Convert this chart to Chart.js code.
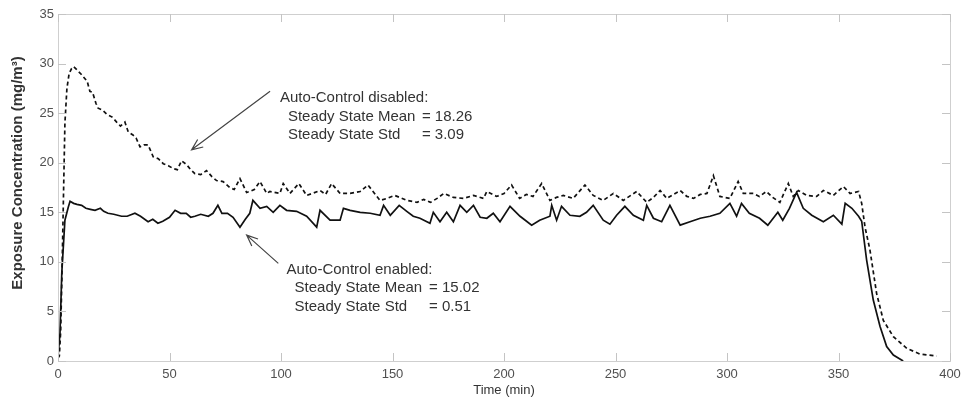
<!DOCTYPE html>
<html>
<head>
<meta charset="utf-8">
<script src="https://cdn.jsdelivr.net/npm/chart.js@4.4.1/dist/chart.umd.min.js"></script>
<style>
  html, body { margin: 0; padding: 0; background: #fff; }
  #wrap { width: 968px; height: 405px; }
</style>
</head>
<body>
<div id="wrap"><canvas id="exposureChart" width="968" height="405"></canvas></div>
<script>
// Auto-Control disabled (dashed line)
const disabledTime = [0, 0.6, 1.2, 1.8, 2.4, 3.1, 4, 5, 6.1, 7, 8.4, 9.2, 10.5, 12, 13.1, 14.3, 15.5, 17, 18, 20,
  21.8, 24.3, 26.3, 28, 30, 31.5, 33.6, 35, 36.8, 38.5, 40.4, 42.7, 45, 47.2, 49.5, 51.7, 53.5, 55.4, 57.7, 59.5,
  61.4, 64, 66.6, 69, 71.1, 74, 77, 79, 81.6, 84.6, 86, 88, 90.6, 93.6, 95, 99.5, 101, 104, 108, 111.5,
  114, 117.5, 120, 122.7, 126.5, 131, 135.5, 139, 144.4, 147.5, 151, 156.4, 161, 164, 167, 170, 173, 177.3, 181.8, 186.3,
  190.8, 192.3, 196.7, 200, 203.4, 207, 210, 213, 216.9, 220.6, 223.5, 226.6, 231, 236.3, 240, 244.5, 249, 253.5, 259.5, 264,
  267, 270, 273, 276, 279, 282, 285, 288, 291, 293.9, 296.8, 301.3, 305, 307.3, 311.8, 314.5, 317.7, 320.5, 323.7, 327.5,
  329.7, 332, 335.7, 340.2, 343.2, 347.7, 352.2, 355.2, 359, 360.4, 361.9, 364.1, 367.1, 370.1, 374.6, 380.6, 386.5, 394];
const disabledValue = [0.3, 0.5, 3, 9, 16, 24, 27.5, 29, 29.5, 29.7, 29.4, 29.2, 28.9, 28.5, 28.2, 27.2, 27.1, 26, 25.5, 25.3,
  24.9, 24.6, 24.1, 23.7, 24.1, 23.1, 22.8, 22.5, 21.6, 21.8, 21.8, 20.6, 20.4, 19.9, 19.7, 19.4, 19.3, 20.2, 19.8, 19.3,
  18.9, 18.8, 19.2, 18.6, 18.2, 18.1, 17.5, 17.3, 18.4, 17.0, 17.1, 17.3, 18.1, 16.9, 17.1, 16.9, 17.9, 16.9, 17.9, 16.7,
  16.9, 17.2, 16.8, 17.9, 16.9, 16.9, 17.1, 17.75, 16.2, 16.4, 16.7, 16.2, 16.0, 16.3, 16.0, 16.4, 16.9, 16.5, 16.4, 16.7,
  16.4, 17.1, 16.6, 16.9, 17.75, 16.4, 16.8, 16.6, 17.9, 16.2, 16.5, 16.7, 16.4, 17.75, 16.7, 16.2, 16.9, 16.2, 17.1, 16.0,
  16.5, 17.2, 16.4, 16.8, 17.2, 16.6, 16.4, 16.8, 16.9, 18.7, 16.6, 16.4, 18.1, 16.9, 16.9, 16.6, 17.1, 16.5, 16.0, 17.9,
  16.6, 17.2, 16.7, 16.6, 17.2, 16.7, 17.6, 16.9, 17.1, 15.9, 13.5, 11.2, 6.8, 4.1, 2.45, 1.28, 0.7, 0.5];

// Auto-Control enabled (solid line)
const enabledTime = [0, 0.9, 1.7, 3.1, 4.6, 5.4, 7, 8.5, 10.6, 12.5, 14.5, 16.6, 19, 20.5, 22.4, 25, 28.5, 31, 34.5, 37,
  40.4, 42.5, 44.8, 47, 50, 52.5, 55, 57.5, 59.5, 61.4, 64, 67.4, 69.5, 71.7, 73.5, 76, 78.5, 81.6, 84, 86,
  87.4, 90.6, 93.6, 96.5, 99.5, 102.5, 107, 111.5, 116, 117.5, 122, 126.5, 128, 131, 135.5, 140, 144.4, 146, 149, 153,
  156.4, 159.3, 162.3, 166.8, 168.3, 171.3, 174.3, 177.3, 180.3, 183.3, 186.3, 189.3, 192.3, 195.2, 198.2, 202.7, 207.2, 212.4, 216, 220.6,
  221.4, 223.6, 225.8, 229.6, 234, 237, 240, 244.5, 247.5, 250.5, 254.2, 258, 262.5, 264, 267, 270.7, 274.4, 279, 283.4, 288,
  292.4, 296.8, 301.3, 304.3, 306.5, 310, 314.6, 318.3, 322.8, 325, 328, 331.2, 334.2, 338, 343.2, 347.7, 351.5, 353, 356, 359,
  360.4, 362.6, 365.6, 368.6, 371.6, 374.6, 379];
const enabledValue = [0.4, 2.8, 8.9, 14.2, 15.5, 16.1, 15.9, 15.8, 15.7, 15.4, 15.3, 15.2, 15.4, 15.1, 14.9, 14.8, 14.6, 14.6, 14.9, 14.6,
  14.05, 14.3, 13.9, 14.1, 14.5, 15.2, 14.9, 14.9, 14.5, 14.6, 14.8, 14.6, 14.9, 15.7, 14.9, 14.9, 14.5, 13.5, 14.3, 14.9,
  16.2, 15.4, 15.6, 15.0, 15.7, 15.2, 15.1, 14.6, 13.5, 15.2, 14.2, 14.2, 15.4, 15.2, 15.0, 14.9, 14.7, 15.7, 14.7, 15.7,
  15.1, 14.6, 14.4, 13.9, 15.0, 14.05, 15.0, 14.05, 15.7, 15.0, 15.7, 14.5, 14.4, 14.9, 14.05, 15.6, 14.6, 13.7, 14.2, 14.6,
  15.7, 14.2, 15.6, 14.7, 14.6, 15.0, 15.7, 14.2, 13.8, 14.7, 15.6, 14.7, 14.2, 15.7, 14.4, 14.05, 15.7, 13.7, 14.05, 14.4,
  14.6, 14.9, 15.9, 14.6, 15.9, 14.9, 14.4, 13.7, 15.0, 14.2, 15.4, 17.0, 15.4, 14.7, 14.05, 14.7, 13.8, 15.9, 15.4, 14.6,
  14.1, 10.2, 6.15, 3.5, 1.45, 0.6, 0];

const xTicks = [0, 50, 100, 150, 200, 250, 300, 350, 400];
const yTicks = [0, 5, 10, 15, 20, 25, 30, 35];

const disabledNote = ['Auto-Control disabled:', 'Steady State Mean', '= 18.26', 'Steady State Std', '= 3.09'];
const enabledNote = ['Auto-Control enabled:', 'Steady State Mean', '= 15.02', 'Steady State Std', '= 0.51'];

const FONT = '"Liberation Sans", Arial, Helvetica, sans-serif';

function toPoints(ts, vs) {
    return ts.map((t, i) => ({ x: t, y: vs[i] }));
}

// cadre style Matlab + titres d'axes
const framePlugin = {
    id: 'frame',
    afterDraw(chart) {
        const ctx = chart.ctx;
        const a = chart.chartArea;
        const xs = chart.scales.x, ys = chart.scales.y;
        ctx.save();
        ctx.strokeStyle = '#cfcfcf';
        ctx.lineWidth = 1;
        ctx.strokeRect(a.left + 0.5, a.top + 0.5, a.right - a.left, a.bottom - a.top);
        ctx.strokeStyle = '#c4c4c4';
        ctx.beginPath();
        xTicks.forEach(v => {
            const px = Math.round(xs.getPixelForValue(v)) + 0.5;
            ctx.moveTo(px, a.bottom); ctx.lineTo(px, a.bottom - 8);
            ctx.moveTo(px, a.top); ctx.lineTo(px, a.top + 8);
        });
        yTicks.forEach(v => {
            const py = Math.round(ys.getPixelForValue(v)) + 0.5;
            ctx.moveTo(a.left, py); ctx.lineTo(a.left + 8, py);
            ctx.moveTo(a.right, py); ctx.lineTo(a.right - 8, py);
        });
        ctx.stroke();

        ctx.fillStyle = '#333';
        ctx.textAlign = 'center';
        ctx.textBaseline = 'middle';
        ctx.font = '13px ' + FONT;
        ctx.fillText('Time (min)', (a.left + a.right) / 2, 390);
        ctx.translate(18, 173);
        ctx.rotate(-Math.PI / 2);
        ctx.font = 'bold 15px ' + FONT;
        ctx.fillText('Exposure Concentration (mg/m\u00B3)', 0, 0);
        ctx.restore();
    }
};

// annotations avec flèches
const notesPlugin = {
    id: 'notes',
    afterDatasetsDraw(chart) {
        const ctx = chart.ctx;
        const xs = chart.scales.x, ys = chart.scales.y;
        const px = v => xs.getPixelForValue(v), py = v => ys.getPixelForValue(v);

        function arrow(x0, y0, x1, y1) {
            const ang = Math.atan2(y1 - y0, x1 - x0);
            ctx.beginPath();
            ctx.moveTo(x0, y0); ctx.lineTo(x1, y1);
            ctx.moveTo(x1 - 12 * Math.cos(ang - 0.4), y1 - 12 * Math.sin(ang - 0.4));
            ctx.lineTo(x1, y1);
            ctx.lineTo(x1 - 12 * Math.cos(ang + 0.4), y1 - 12 * Math.sin(ang + 0.4));
            ctx.stroke();
        }

        function note(lines, x, y, indent, eqX) {
            ctx.textAlign = 'left';
            ctx.textBaseline = 'middle';
            ctx.fillText(lines[0], x, y);
            ctx.fillText(lines[1], x + indent, y + 18.5);
            ctx.fillText(lines[2], eqX, y + 18.5);
            ctx.fillText(lines[3], x + indent, y + 37);
            ctx.fillText(lines[4], eqX, y + 37);
        }

        ctx.save();
        ctx.strokeStyle = '#444';
        ctx.lineWidth = 1.2;
        arrow(px(95.1), py(27.2), px(59.9), py(21.3));
        arrow(px(98.8), py(9.85), px(84.6), py(12.7));

        ctx.fillStyle = '#333';
        ctx.font = '15px ' + FONT;
        note(disabledNote, px(99.5), py(26.5), 8, px(163.2));
        note(enabledNote, px(102.5), py(9.2), 8, px(166.4));
        ctx.restore();
    }
};

const ctx = document.getElementById('exposureChart').getContext('2d');
const exposureChart = new Chart(ctx, {
    type: 'line',
    data: {
        datasets: [{
            label: 'Auto-Control disabled',
            data: toPoints(disabledTime, disabledValue),
            borderColor: '#111',
            borderWidth: 1.7,
            borderDash: [4, 3],
            pointRadius: 0,
            tension: 0,
            fill: false
        }, {
            label: 'Auto-Control enabled',
            data: toPoints(enabledTime, enabledValue),
            borderColor: '#111',
            borderWidth: 1.7,
            pointRadius: 0,
            tension: 0,
            fill: false
        }]
    },
    options: {
        responsive: false,
        animation: false,
        devicePixelRatio: 1,
        layout: { padding: { left: 0, top: 14, right: 18, bottom: 0 } },
        plugins: {
            legend: { display: false },
            tooltip: { enabled: false }
        },
        scales: {
            x: {
                type: 'linear',
                min: 0,
                max: 400,
                afterBuildTicks: s => { s.ticks = xTicks.map(v => ({ value: v })); },
                afterFit: s => { s.height = 44; },
                grid: { display: false, drawTicks: false },
                border: { display: false },
                ticks: { color: '#505050', padding: 6, maxRotation: 0, font: { family: FONT, size: 13 } }
            },
            y: {
                min: 0,
                max: 35,
                afterBuildTicks: s => { s.ticks = yTicks.map(v => ({ value: v })); },
                afterFit: s => { s.width = 58; },
                grid: { display: false, drawTicks: false },
                border: { display: false },
                ticks: { color: '#505050', padding: 4, font: { family: FONT, size: 13 } }
            }
        }
    },
    plugins: [framePlugin, notesPlugin]
});
</script>
</body>
</html>
